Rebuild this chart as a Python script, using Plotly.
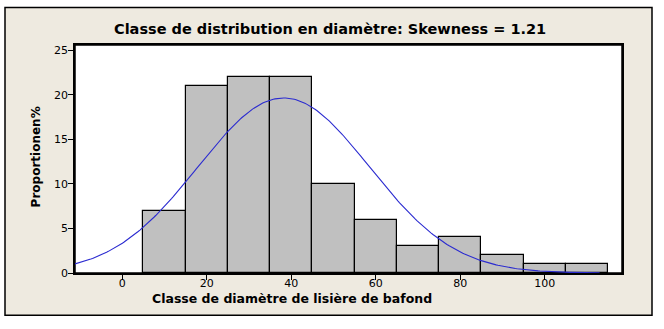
import numpy as np
import plotly.graph_objects as go

# Histogram data (bin centres, percentage per bin)
bin_centers = [10, 20, 30, 40, 50, 60, 70, 80, 90, 100, 110]
proportions = [7, 21, 22, 22, 10, 6, 3, 4, 2, 1, 1]
bin_width = 10

# Fitted normal curve parameters
fit_mean = 38.2
fit_sd = 20.3
curve_start = -11.2
curve_end = 113

x_ticks = [0, 20, 40, 60, 80, 100]
y_ticks = [0, 5, 10, 15, 20, 25]

W, H = 664, 329
L, R, T, B = 75, 622, 44.5, 272.7
pw, ph = R - L, B - T

def px(x):
    return (x - L) / pw

def py(y):
    return (B - y) / ph

xc = np.linspace(curve_start, curve_end, 300)
yc = 100 * bin_width * np.exp(-0.5 * ((xc - fit_mean) / fit_sd) ** 2) / (fit_sd * np.sqrt(2 * np.pi))

fig = go.Figure()
fig.add_trace(go.Bar(
    x=bin_centers, y=proportions, width=bin_width,
    marker=dict(color="#C0C0C0", line=dict(color="black", width=1.2)),
    showlegend=False,
))
fig.add_trace(go.Scatter(
    x=xc, y=yc, mode="lines",
    line=dict(color="#2B2BD0", width=1.1),
    showlegend=False,
))

fig.update_layout(
    width=W, height=H,
    margin=dict(l=L, r=W - R, t=T, b=H - B, pad=0),
    paper_bgcolor="white",
    plot_bgcolor="rgba(0,0,0,0)",
    bargap=0,
    font=dict(family="DejaVu Sans", size=11, color="black"),
    shapes=[
        dict(type="rect", xref="paper", yref="paper", layer="below",
             x0=px(5), x1=px(652), y0=py(315), y1=py(7),
             fillcolor="#EEEAE0", line=dict(color="black", width=1.5)),
        dict(type="rect", xref="paper", yref="paper", layer="below",
             x0=0, x1=1, y0=0, y1=1,
             fillcolor="white", line=dict(color="black", width=1.5)),
    ],
    annotations=[
        dict(text="<b>Classe de distribution en diamètre: Skewness = 1.21</b>",
             xref="paper", yref="paper", x=px(330), y=py(28),
             xanchor="center", yanchor="middle", showarrow=False,
             font=dict(family="DejaVu Sans", size=14.5, color="black")),
        dict(text="<b>Classe de diamètre de lisière de bafond</b>",
             xref="paper", yref="paper", x=px(291.5), y=py(298),
             xanchor="center", yanchor="middle", showarrow=False,
             font=dict(family="DejaVu Sans", size=12.5, color="black")),
        dict(text="<b>Proportionen%</b>",
             xref="paper", yref="paper", x=px(36), y=py(157),
             xanchor="center", yanchor="middle", showarrow=False, textangle=-90,
             font=dict(family="DejaVu Sans", size=12, color="black")),
    ],
)
fig.update_xaxes(
    range=[-11.2, 118.3], tickvals=x_ticks, ticks="outside", ticklen=5,
    tickcolor="black", showgrid=False, zeroline=False,
    showline=True, linecolor="black", linewidth=1.5, mirror=True,
    tickfont=dict(family="DejaVu Sans", size=11),
    ticklabelstandoff=-6,
)
fig.update_yaxes(
    range=[0, 25.6], tickvals=y_ticks, ticks="outside", ticklen=5,
    tickcolor="black", showgrid=False, zeroline=False,
    showline=True, linecolor="black", linewidth=1.5, mirror=True,
    tickfont=dict(family="DejaVu Sans", size=11),
    ticklabelstandoff=-2,
)

fig.write_html("out.html")
